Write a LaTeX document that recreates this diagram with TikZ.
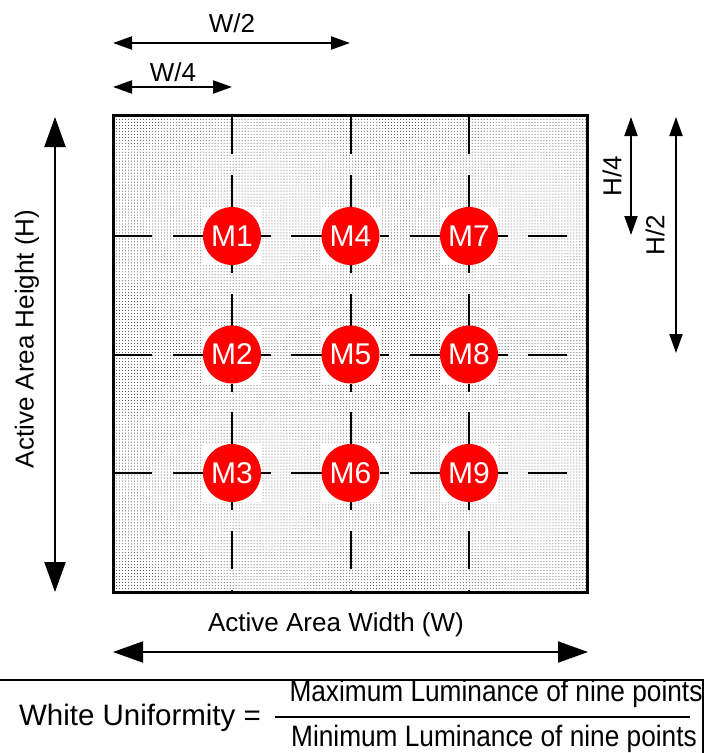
\documentclass[tikz,border=0pt]{standalone}
\usepackage{fontspec}
\setmainfont{Liberation Sans}
\usetikzlibrary{arrows.meta,patterns}
\begin{document}
\begin{tikzpicture}[x=1bp,y=-1bp,
  dimarrow/.style={line width=2bp,{Triangle[length=19bp,width=13bp]}-{Triangle[length=19bp,width=13bp]}},
  bigarrow/.style={line width=2bp,{Triangle[length=30bp,width=21bp]}-{Triangle[length=30bp,width=21bp]}},
  lbl/.style={font=\fontsize{26bp}{30bp}\selectfont, inner sep=0pt},
  frm/.style={font=\fontsize{29.5bp}{33bp}\selectfont, inner sep=0pt},
  gridline/.style={line width=2bp, dash pattern=on 38.5bp off 20.75bp},
  backsq/.style={rectangle, fill=white, minimum size=58bp, inner sep=0pt},
  meas/.style={circle, fill=red, text=white, minimum size=58bp, inner sep=0pt, font=\fontsize{30bp}{34bp}\selectfont},
  panel/.style={rectangle, outer sep=0pt, minimum width=474bp, minimum height=476bp, pattern=dots, pattern color=black!75},
  frame/.style={rectangle, outer sep=0pt, minimum width=474bp, minimum height=476bp, draw=black, line width=3bp},
]
\useasboundingbox (0,0) rectangle (704,753);

% active area
\node[panel] (box) at (350.5,354) {};

% measurement points
\foreach \n/\x/\y in {1/232/236, 2/232/354.5, 3/232/473, 4/350.5/236, 5/350.5/354.5, 6/350.5/473, 7/469/236, 8/469/354.5, 9/469/473} {
  \coordinate (c\n) at (\x,\y);
}
% grid lines
\draw[gridline] (c1 |- box.north) -- (c1 |- box.south);
\draw[gridline] (c4 |- box.north) -- (c4 |- box.south);
\draw[gridline] (c7 |- box.north) -- (c7 |- box.south);
\draw[gridline] (box.west |- c1) -- (box.east |- c1);
\draw[gridline] (box.west |- c2) -- (box.east |- c2);
\draw[gridline] (box.west |- c3) -- (box.east |- c3);

\node[frame] (boxframe) at (box) {};

\foreach \n in {1,...,9} {
  \node[backsq] (s\n) at (c\n) {};
  \node[meas] (m\n) at (c\n) {M\n};
}

% dimension arrows
\coordinate (w2a) at (113,43);  \coordinate (w2b) at (350,43);
\coordinate (w4a) at (113,87);  \coordinate (w4b) at (232,87);
\draw[dimarrow] (w2a) -- (w2b);
\draw[dimarrow] (w4a) -- (w4b);
\node[lbl] (lw2) at (232,23) {W/2};
\node[lbl] (lw4) at (173,72) {W/4};

\coordinate (h4a) at (631,117); \coordinate (h4b) at (631,235);
\coordinate (h2a) at (676,117); \coordinate (h2b) at (676,353);
\draw[dimarrow] (h4a) -- (h4b);
\draw[dimarrow] (h2a) -- (h2b);
\node[lbl, rotate=90] (lh4) at (612,176) {H/4};
\node[lbl, rotate=90] (lh2) at (655,235) {H/2};

\coordinate (ha) at (55,117); \coordinate (hb) at (55,592);
\draw[bigarrow] (ha) -- (hb);
\node[lbl, rotate=90] (lh) at (27,339) {Active Area Height (H)};

\coordinate (wa) at (113,652); \coordinate (wb) at (588,652);
\draw[bigarrow] (wa) -- (wb);
\node[lbl] (lw) at (336,625) {Active Area Width (W)};

% formula panel
\coordinate (fa) at (0,680); \coordinate (fb) at (703,680); \coordinate (fc) at (703,753);
\draw[line width=1.5bp] (fa) -- (fb) -- (fc);
\node[frm] (wu) at (140,718) {White Uniformity =};
\node[frm] (num) at (496,694) {\scalebox{0.89}[1]{Maximum Luminance of nine points}};
\node[frm] (den) at (494,739) {\scalebox{0.89}[1]{Minimum Luminance of nine points}};
\coordinate (ba) at (275,717); \coordinate (bb) at (690,717);
\draw[line width=2bp] (ba) -- (bb);
\end{tikzpicture}
\end{document}
